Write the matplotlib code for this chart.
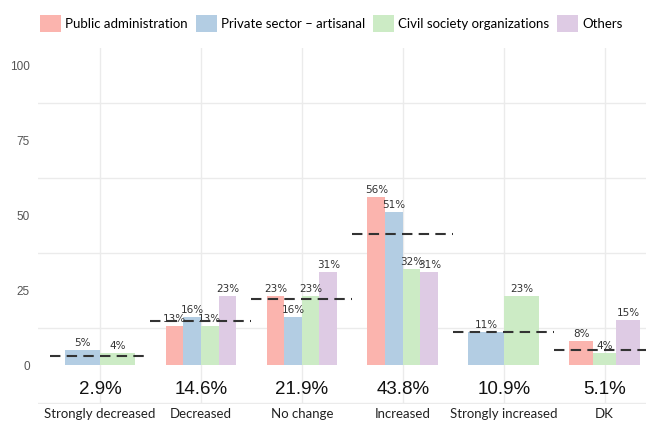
import numpy as np
import matplotlib.pyplot as plt
from matplotlib.patches import Patch

categories = ["Strongly decreased", "Decreased", "No change", "Increased",
              "Strongly increased", "DK"]
groups = ["Public administration", "Private sector \u2013 artisanal",
          "Civil society organizations", "Others"]
colors = ["#FBB4AE", "#B3CDE3", "#CCEBC5", "#DECBE4"]

# share per stakeholder group (None = no answer in that group)
public_admin = [None, 13, 23, 56, None, 8]
private_sector = [5, 16, 16, 51, 11, None]
civil_society = [4, 13, 23, 32, 23, 4]
others = [None, 23, 31, 31, None, 15]

# overall share of answers per category
overall = [2.9, 14.6, 21.9, 43.8, 10.9, 5.1]

series = [public_admin, private_sector, civil_society, others]

fig = plt.figure(figsize=(6.46, 4.26), dpi=100)
ax = fig.add_axes([38 / 646, 22 / 426, 1 - 38 / 646, 356 / 426])

group_width = 0.7
for i, cat in enumerate(categories):
    x0 = i + 1
    present = [k for k in range(4) if series[k][i] is not None]
    w = group_width / len(present)
    for j, k in enumerate(present):
        val = series[k][i]
        xc = x0 - group_width / 2 + w * (j + 0.5)
        ax.bar(xc, val, width=w, color=colors[k], zorder=2)
        ax.text(xc, val + 0.6, f"{val}%", ha="center", va="bottom",
                fontsize=7.5, color="#333333", zorder=4)
    ax.plot([x0 - 0.5, x0 + 0.5], [overall[i], overall[i]], ls=(0, (5, 3)),
            color="#333333", lw=1.5, zorder=3)
    ax.text(x0, -8.3, f"{overall[i]}%", ha="center", va="center",
            fontsize=13.5, color="#111111", family="Liberation Sans")

ax.set_xlim(0.386, 6.41)
ax.set_ylim(-13, 105.7)
ax.set_yticks([0, 25, 50, 75, 100])
ax.set_yticks([-12.5, 12.5, 37.5, 62.5, 87.5], minor=True)
ax.set_xticks(range(1, 7))
ax.set_xticklabels(categories, family="Lato", fontsize=9.5, color="#222222")
ax.tick_params(axis="both", length=0, which="both")
ax.tick_params(axis="x", pad=3)
ax.tick_params(axis="y", pad=6, labelsize=8.5, labelcolor="#555555")
for lab in ax.get_yticklabels():
    lab.set_family("Liberation Sans")
ax.grid(False)
ax.grid(True, axis="x", which="major", color="#EBEBEB", lw=1, zorder=0)
ax.grid(True, axis="y", which="minor", color="#EBEBEB", lw=1, zorder=0)
for s in ax.spines.values():
    s.set_visible(False)

handles = [Patch(facecolor=c, edgecolor="none") for c in colors]
fig.legend(handles, groups, loc="center left", bbox_to_anchor=(0.044, 0.945),
           ncol=4, frameon=False, handlelength=1.6, handleheight=1.67,
           handletextpad=0.3, columnspacing=0.6,
           prop={"family": "Lato", "size": 9.5})

fig.savefig("out.png", dpi=100)
